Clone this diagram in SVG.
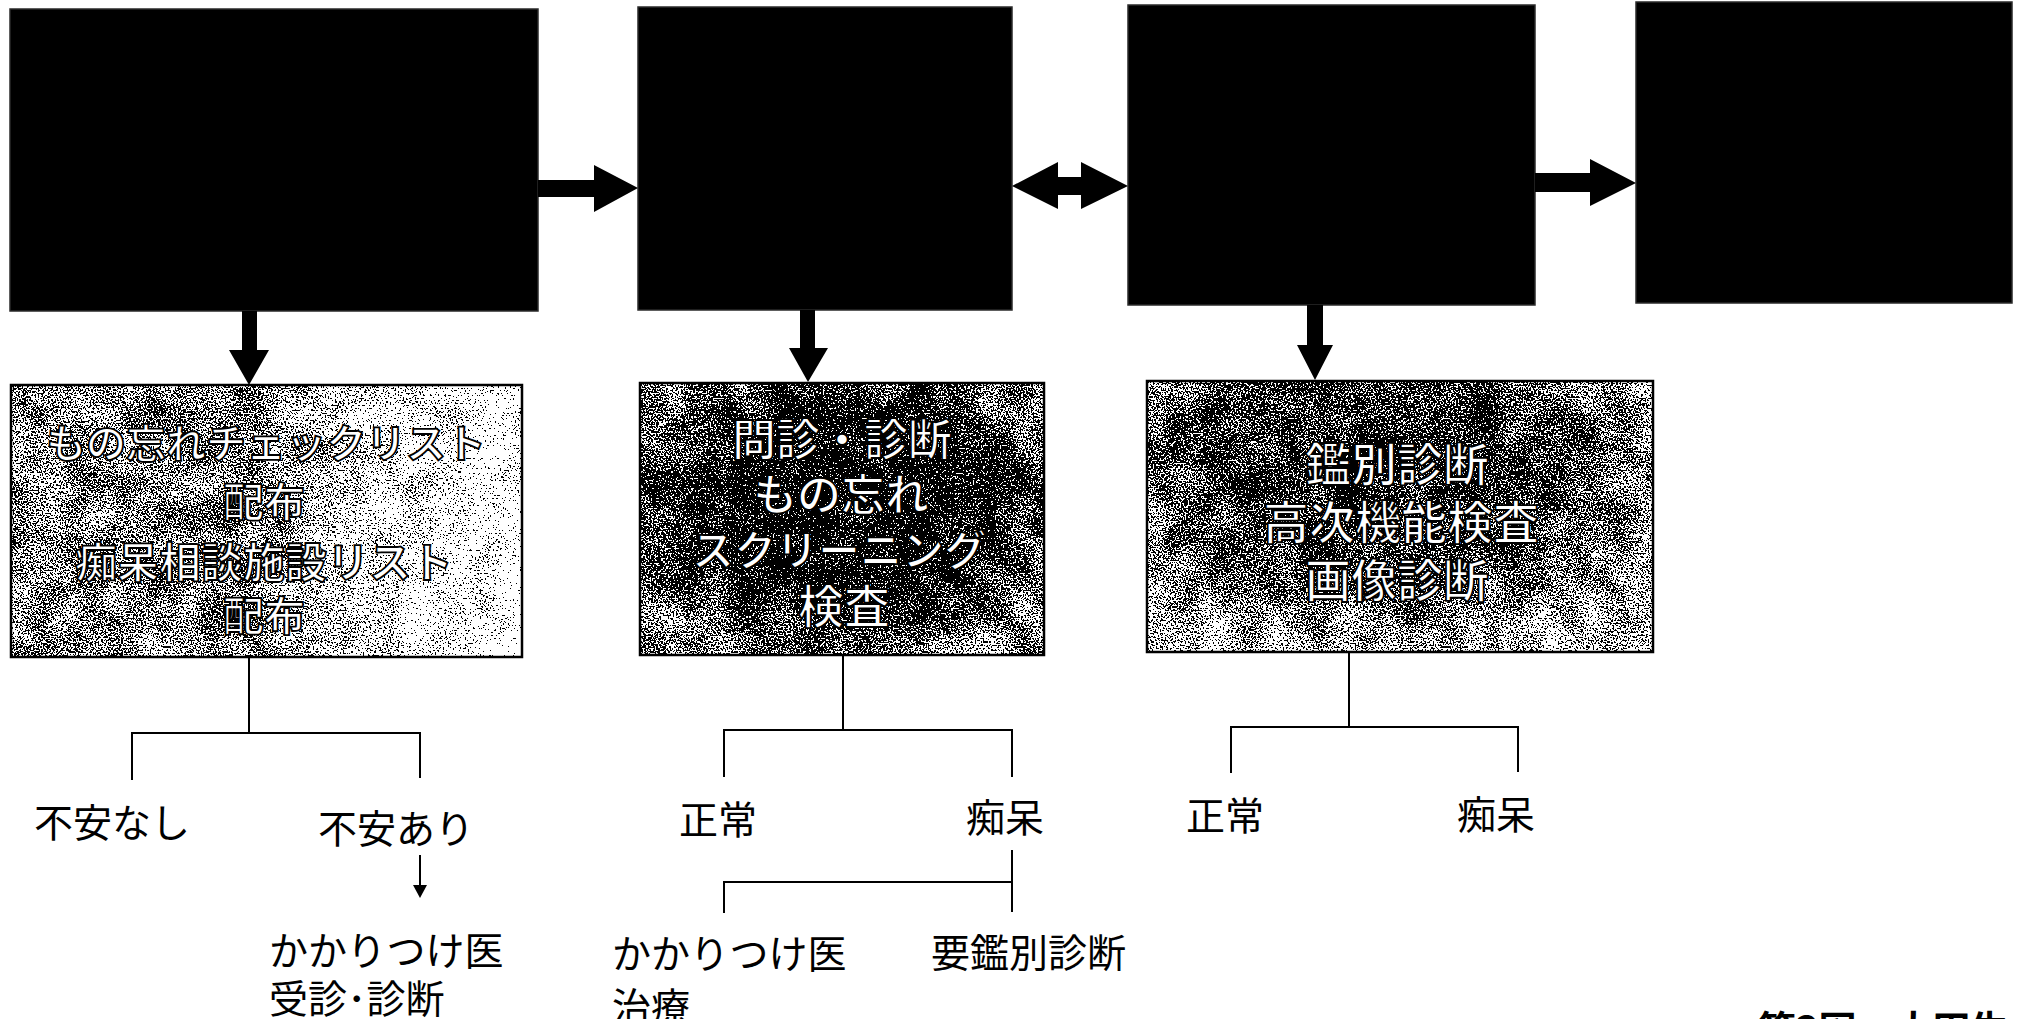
<svg xmlns="http://www.w3.org/2000/svg" width="2017" height="1019" viewBox="0 0 2017 1019">
<style>
.blk{fill:#000;stroke:#2a2a2a;stroke-width:1.5}
.bb{stroke:#000;stroke-width:2.5}
.bt{font-family:"Noto Sans CJK JP","Noto Sans CJK SC",sans-serif;font-weight:bold;fill:#fff;stroke:#000;stroke-width:1.8;text-anchor:middle;dominant-baseline:central}
.lb{font-family:"Noto Sans CJK JP","Noto Sans CJK SC",sans-serif;font-size:39px;fill:#000;dominant-baseline:central}
.ln{fill:none;stroke:#000;stroke-width:2}
.ar{fill:#000}
</style>
<defs>
<filter id="dither" x="0" y="0" width="100%" height="100%" color-interpolation-filters="sRGB">
<feTurbulence type="fractalNoise" baseFrequency="0.6" numOctaves="1" seed="7" result="hn"/>
<feColorMatrix in="hn" type="matrix" values="1 0 0 0 0 1 0 0 0 0 1 0 0 0 0 0 0 0 0 1" result="hg"/>
<feTurbulence type="fractalNoise" baseFrequency="0.03" numOctaves="3" seed="3" result="lnz"/>
<feColorMatrix in="lnz" type="matrix" values="1 0 0 0 0 1 0 0 0 0 1 0 0 0 0 0 0 0 0 1" result="lg"/>
<feComposite in="SourceGraphic" in2="lg" operator="arithmetic" k1="0" k2="1" k3="0.6" k4="-0.3" result="s1"/>
<feComposite in="s1" in2="hg" operator="arithmetic" k1="0" k2="1" k3="2.6" k4="-1.3" result="s"/>
<feComponentTransfer in="s">
<feFuncR type="discrete" tableValues="0 1"/>
<feFuncG type="discrete" tableValues="0 1"/>
<feFuncB type="discrete" tableValues="0 1"/>
<feFuncA type="linear" slope="0" intercept="1"/>
</feComponentTransfer>
</filter>
<linearGradient id="g1" x1="0" y1="0" x2="1" y2="0">
<stop offset="0" stop-color="#8c8c8c"/>
<stop offset="0.45" stop-color="#7e7e7e"/>
<stop offset="0.7" stop-color="#c4c4c4"/>
<stop offset="1" stop-color="#e8e8e8"/>
</linearGradient>
<radialGradient id="g2" cx="0.5" cy="0.45" r="0.6">
<stop offset="0" stop-color="#1c1c1c"/>
<stop offset="0.6" stop-color="#333"/>
<stop offset="1" stop-color="#858585"/>
</radialGradient>
<radialGradient id="g3" cx="0.45" cy="0.35" r="0.65">
<stop offset="0" stop-color="#363636"/>
<stop offset="0.6" stop-color="#5c5c5c"/>
<stop offset="1" stop-color="#a0a0a0"/>
</radialGradient>
</defs>

<g id="node-top1"><rect class="blk" x="10" y="9" width="528" height="302"/></g>
<g id="node-top2"><rect class="blk" x="638" y="7" width="374" height="303"/></g>
<g id="node-top3"><rect class="blk" x="1128" y="5" width="407" height="300"/></g>
<g id="node-top4"><rect class="blk" x="1636" y="2" width="376" height="301"/></g>

<g id="node-box1">
<rect x="11" y="385" width="511" height="272" fill="url(#g1)" filter="url(#dither)"/>
<rect class="bb" x="11" y="385" width="511" height="272" fill="none"/>
<text class="bt" font-size="40" x="266" y="441">もの忘れチェックリスト</text>
<text class="bt" font-size="41" x="264" y="499">配布</text>
<text class="bt" font-size="42" x="264" y="559">痴呆相談施設リスト</text>
<text class="bt" font-size="41" x="264" y="613">配布</text>
</g>

<g id="node-box2">
<rect x="640" y="383" width="404" height="272" fill="url(#g2)" filter="url(#dither)"/>
<rect class="bb" x="640" y="383" width="404" height="272" fill="none"/>
<text class="bt" font-size="44" x="842" y="437">問診・診断</text>
<text class="bt" font-size="44" x="841" y="492">もの忘れ</text>
<text class="bt" font-size="42" x="839" y="547">スクリーニング</text>
<text class="bt" font-size="46" x="844" y="603">検査</text>
</g>

<g id="node-box3">
<rect x="1147" y="381" width="506" height="271" fill="url(#g3)" filter="url(#dither)"/>
<rect class="bb" x="1147" y="381" width="506" height="271" fill="none"/>
<text class="bt" font-size="46" x="1397" y="461">鑑別診断</text>
<text class="bt" font-size="46" x="1401" y="519">高次機能検査</text>
<text class="bt" font-size="46" x="1397" y="577">画像診断</text>
</g>

<g id="connectors">
<polygon class="ar" points="538,180 594,180 594,165 638,188 594,212 594,197 538,197"/>
<polygon class="ar" points="1012,186 1058,162 1058,177 1081,177 1081,162 1128,186 1081,209 1081,195 1058,195 1058,209"/>
<polygon class="ar" points="1535,173 1590,173 1590,159 1636,183 1590,206 1590,192 1535,192"/>
<polygon class="ar" points="242,311 257,311 257,350 269,350 249,385 229,350 242,350"/>
<polygon class="ar" points="800,310 815,310 815,348 828,348 808,382 789,348 800,348"/>
<polygon class="ar" points="1307,305 1323,305 1323,345 1333,345 1315,380 1297,345 1307,345"/>
<path class="ln" d="M249 657V733M132 780V733H420V778"/>
<path class="ln" d="M420 855V888"/>
<polygon class="ar" points="413,885 427,885 420,898"/>
<path class="ln" d="M843 655V730M724 777V730H1012V777"/>
<path class="ln" d="M1012 850V912M724 913V882H1012"/>
<path class="ln" d="M1349 652V727M1231 773V727H1518V772"/>
</g>

<g id="labels">
<text class="lb" x="34" y="820">不安なし</text>
<text class="lb" x="318" y="826">不安あり</text>
<text class="lb" x="269" y="948">かかりつけ医</text>
<text class="lb" x="269" y="996">受診･診断</text>
<text class="lb" x="679" y="817" font-size="40">正常</text>
<text class="lb" x="966" y="815" font-size="40">痴呆</text>
<text class="lb" x="612" y="951">かかりつけ医</text>
<text class="lb" x="612" y="1004">治療</text>
<text class="lb" x="931" y="950" font-size="41">要鑑別診断</text>
<text class="lb" x="1186" y="813" font-size="40">正常</text>
<text class="lb" x="1457" y="812" font-size="40">痴呆</text>
<text x="1758" y="1026" font-family="Noto Sans CJK JP, sans-serif" font-size="38" font-weight="bold" dominant-baseline="central">第3図　大田生</text>
</g>
</svg>
